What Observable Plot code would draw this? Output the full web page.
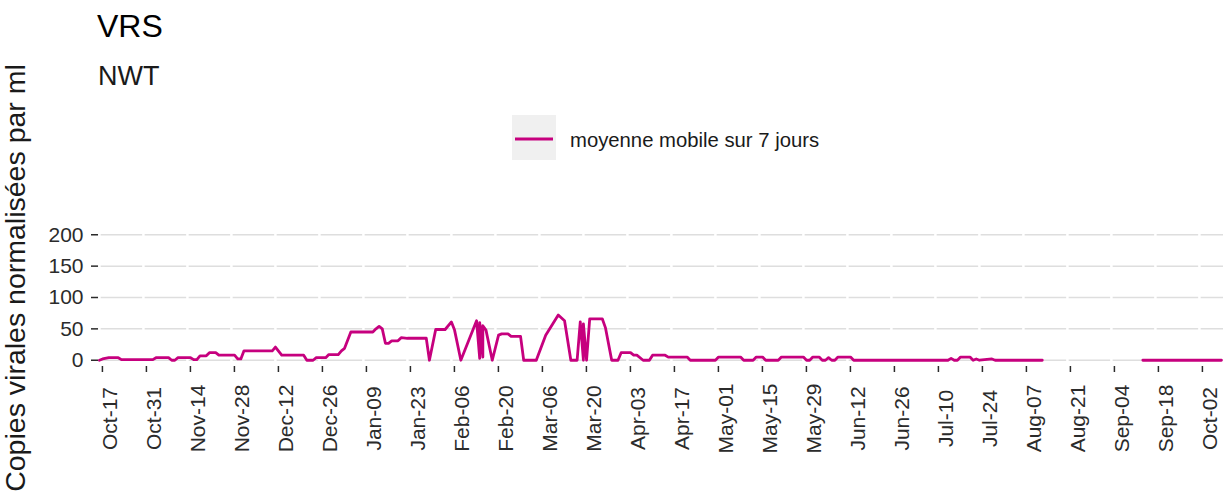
<!DOCTYPE html>
<html><head><meta charset="utf-8">
<script src="https://cdn.jsdelivr.net/npm/d3@7"></script>
<script src="https://cdn.jsdelivr.net/npm/@observablehq/plot@0.6"></script>
<style>
body{margin:0;background:#fff;}
#wrap{position:relative;width:1225px;height:496px;font-family:"Liberation Sans",Arial,sans-serif;overflow:hidden;background:#fff}
#wrap svg{position:absolute;left:0;top:0}
</style></head><body><div id="wrap"></div>
<script>
// ---- data ----
const dates = [
"2022-10-17","2022-10-18","2022-10-20","2022-10-23","2022-10-24","2022-11-03","2022-11-04","2022-11-08","2022-11-09","2022-11-10",
"2022-11-11","2022-11-15","2022-11-16","2022-11-17","2022-11-18","2022-11-20","2022-11-21","2022-11-23","2022-11-24","2022-11-29",
"2022-11-30","2022-12-01","2022-12-02","2022-12-11","2022-12-12","2022-12-14","2022-12-21","2022-12-22","2022-12-24","2022-12-25",
"2022-12-28","2022-12-29","2023-01-01","2023-01-02","2023-01-03","2023-01-05","2023-01-12","2023-01-13","2023-01-14","2023-01-15",
"2023-01-16","2023-01-17","2023-01-18","2023-01-20","2023-01-21","2023-01-23","2023-01-29","2023-01-30","2023-02-01","2023-02-04",
"2023-02-06","2023-02-07","2023-02-09","2023-02-14","2023-02-15","2023-02-15","2023-02-16","2023-02-16","2023-02-17","2023-02-19",
"2023-02-21","2023-02-22","2023-02-24","2023-02-25","2023-02-28","2023-03-01","2023-03-05","2023-03-08","2023-03-12","2023-03-14",
"2023-03-16","2023-03-18","2023-03-19","2023-03-20","2023-03-20","2023-03-21","2023-03-22","2023-03-26","2023-03-27","2023-03-29",
"2023-03-31","2023-04-01","2023-04-04","2023-04-05","2023-04-06","2023-04-08","2023-04-10","2023-04-11","2023-04-15","2023-04-16",
"2023-04-22","2023-04-23","2023-05-01","2023-05-02","2023-05-09","2023-05-10","2023-05-13","2023-05-14","2023-05-16","2023-05-17",
"2023-05-21","2023-05-22","2023-05-29","2023-05-30","2023-05-31","2023-06-01","2023-06-03","2023-06-04","2023-06-05","2023-06-06",
"2023-06-07","2023-06-08","2023-06-09","2023-06-13","2023-06-14","2023-07-14","2023-07-15","2023-07-16","2023-07-17","2023-07-18",
"2023-07-21","2023-07-22","2023-07-23","2023-07-24","2023-07-28","2023-07-29","2023-08-13","2023-08-20","2023-09-14","2023-10-09"
];
const values = [
0,2,4,4,1,1,4,4,0,0,
4,4,1,1,7,7,12,12,8,8,
2,2,15,15,21,8,8,0,0,4,
4,9,9,15,19,45,45,50,54,50,
27,27,31,31,36,35,35,0,49,49,
61,48,0,63,3,60,5,55,48,0,
40,42,42,38,38,0,0,40,72,63,
0,0,61,0,58,0,66,66,52,0,
0,12,12,8,8,0,0,8,8,5,
5,0,0,5,5,0,0,5,5,0,
0,5,5,0,0,5,5,0,0,4,
0,0,5,5,0,0,3,0,0,5,
5,0,2,0,2,0,0,null,0,0
];
const tickDates = ["2022-10-17","2022-10-31","2022-11-14","2022-11-28","2022-12-12","2022-12-26","2023-01-09","2023-01-23","2023-02-06","2023-02-20","2023-03-06","2023-03-20","2023-04-03","2023-04-17","2023-05-01","2023-05-15","2023-05-29","2023-06-12","2023-06-26","2023-07-10","2023-07-24","2023-08-07","2023-08-21","2023-09-04","2023-09-18","2023-10-02"];
const tickLabels = ["Oct-17","Oct-31","Nov-14","Nov-28","Dec-12","Dec-26","Jan-09","Jan-23","Feb-06","Feb-20","Mar-06","Mar-20","Apr-03","Apr-17","May-01","May-15","May-29","Jun-12","Jun-26","Jul-10","Jul-24","Aug-07","Aug-21","Sep-04","Sep-18","Oct-02"];
const yTicks = [0, 50, 100, 150, 200];
const titleText = "VRS";
const subtitleText = "NWT";
const yLabelText = "Copies virales normalisées par ml";
const legendText = "moyenne mobile sur 7 jours";
const lineColor = "#c6007e";

// ---- build ----
const parse = d3.utcParse("%Y-%m-%d");
const data = dates.map((d, i) => ({date: parse(d), value: values[i]}));
const ticks = tickDates.map(parse);
const fmt = d => { const i = ticks.findIndex(t => +t === +d); return i >= 0 ? tickLabels[i] : ""; };

const W = 1225, H = 496;
const chart = Plot.plot({
  width: W, height: H,
  marginLeft: 98, marginRight: 2, marginTop: 228, marginBottom: 130,
  style: {fontFamily: "'Liberation Sans', Arial, sans-serif", background: "transparent"},
  x: {type: "utc", domain: [new Date(Date.UTC(2022, 9, 16, 17)), new Date(Date.UTC(2023, 9, 9, 16))]},
  y: {domain: [-10, 210]},
  marks: [
    Plot.ruleY(yTicks, {stroke: "#dedede", strokeWidth: 1.5}),
    Plot.ruleX(ticks, {stroke: "#ffffff", strokeWidth: 2.5}),
    Plot.axisY({ticks: yTicks, tickSize: 7, tickPadding: 8, fontSize: 21, label: null, color: "#2b2b2b", strokeWidth: 1.5}),
    Plot.axisX({ticks, tickFormat: fmt, tickRotate: -90, textAnchor: "middle", lineAnchor: "top", tickSize: 6, tickPadding: 46, dx: 3, fontSize: 21, label: null, color: "#2b2b2b", strokeWidth: 1.5}),
    Plot.line(data, {x: "date", y: "value", stroke: lineColor, strokeWidth: 2.8})
  ]
});
const wrap = document.getElementById("wrap");
wrap.appendChild(chart);

// overlay: titles, y label, legend
const ov = d3.select(wrap).append("svg").attr("width", W).attr("height", H)
  .style("font-family", "'Liberation Sans', Arial, sans-serif");
ov.append("text").attr("x", 97).attr("y", 37).attr("font-size", 32).attr("fill", "#000").text(titleText);
ov.append("text").attr("x", 98).attr("y", 85).attr("font-size", 27).attr("fill", "#1a1a1a").text(subtitleText);
ov.append("text").attr("transform", "translate(25,278) rotate(-90)").attr("text-anchor", "middle")
  .attr("font-size", 28.5).attr("fill", "#1a1a1a").text(yLabelText);
const lg = ov.append("g");
lg.append("rect").attr("x", 512).attr("y", 115).attr("width", 44).attr("height", 45).attr("fill", "#f0f0f0");
lg.append("line").attr("x1", 515).attr("x2", 553).attr("y1", 139).attr("y2", 139).attr("stroke", lineColor).attr("stroke-width", 3);
lg.append("text").attr("x", 570).attr("y", 147).attr("font-size", 20.3).attr("fill", "#1a1a1a").text(legendText);
</script></body></html>
